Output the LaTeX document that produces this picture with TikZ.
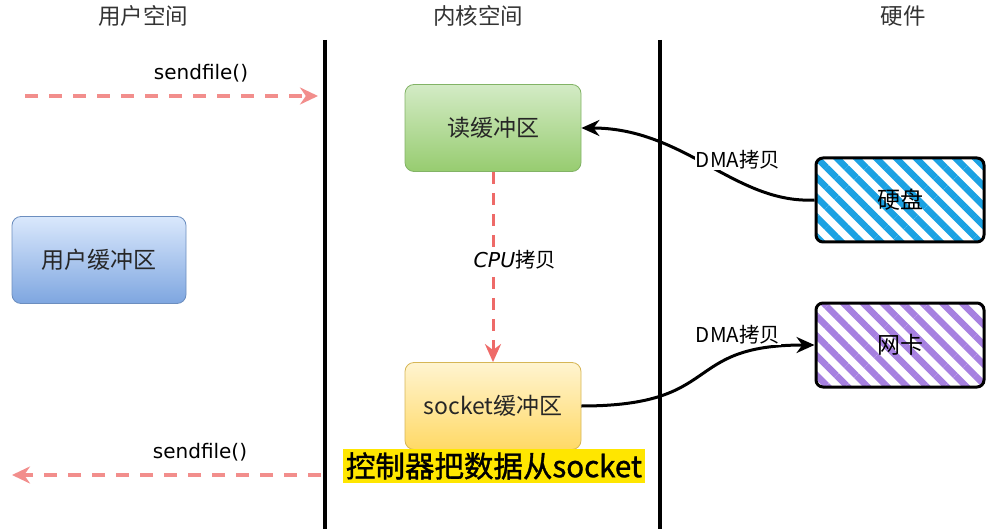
\documentclass[tikz,border=0pt]{standalone}
\usepackage{fontspec}
\setmainfont{Noto Sans CJK SC}
\newfontfamily\latinfont{DejaVu Sans}
\newfontfamily\heavyfont[FakeBold=1.2]{Noto Sans CJK SC}
\usetikzlibrary{arrows.meta,patterns.meta}

\definecolor{dashpink}{HTML}{F28E8C}
\definecolor{cpured}{HTML}{EE6A68}
\definecolor{greentop}{HTML}{D3EBC5}
\definecolor{greenbot}{HTML}{97CC70}
\definecolor{greenline}{HTML}{82B366}
\definecolor{bluetop}{HTML}{DAE8FC}
\definecolor{bluebot}{HTML}{7EA6E0}
\definecolor{blueline}{HTML}{6C8EBF}
\definecolor{yellowtop}{HTML}{FFF4D0}
\definecolor{yellowbot}{HTML}{FFD966}
\definecolor{yellowline}{HTML}{D6B656}
\definecolor{diskblue}{HTML}{1BA1E2}
\definecolor{nicpurple}{HTML}{A680E0}
\definecolor{subyellow}{HTML}{FFE600}

\tikzset{
  header/.style={font=\fontsize{22.5}{24}\selectfont, text=black!80},
  buf/.style={rounded corners=9pt, minimum width=176pt, minimum height=87pt,
    font=\fontsize{23}{26}\selectfont, text=black!85, line width=0.8pt},
  hw/.style={rounded corners=7pt, minimum width=168pt, minimum height=84pt,
    draw=black, line width=3pt, font=\fontsize{23}{26}\selectfont},
  hatch/.style={pattern={Lines[angle=-45,distance=14pt,line width=6.5pt]}, rounded corners=7pt},
  wall/.style={line width=4pt, black},
  callarrow/.style={dashpink, line width=3.5pt, dash pattern=on 13pt off 11pt,
    -{Stealth[length=18pt,width=17pt]}},
  dma/.style={line width=3pt, black, -{Stealth[length=18pt,width=16pt]}},
  edgelabel/.style={font=\fontsize{20.5}{22}\selectfont, fill=white, inner sep=1pt},
  calllabel/.style={font=\latinfont\fontsize{20}{22}\selectfont}
}

\begin{document}
\begin{tikzpicture}[x=1pt,y=-1pt]
  \useasboundingbox (0,0) rectangle (990,529);

  % headers
  \node[header] at (143,16) (huser) {用户空间};
  \node[header] at (478,16) (hkern) {内核空间};
  \node[header] at (903,16) (hhw) {硬件};

  % walls
  \coordinate (w1t) at (325,40);
  \coordinate (w1b) at (325,529);
  \coordinate (w2t) at (660,40);
  \coordinate (w2b) at (660,529);
  \draw [wall] (w1t) -- (w1b);
  \draw [wall] (w2t) -- (w2b);

  % buffers
  \node[buf, draw=greenline, top color=greentop, bottom color=greenbot] at (493,128) (readbuf) {读缓冲区};
  \node[buf, draw=blueline, top color=bluetop, bottom color=bluebot, minimum width=174pt] at (99,260) (userbuf) {用户缓冲区};
  \node[buf, draw=yellowline, top color=yellowtop, bottom color=yellowbot] at (493,406) (sockbuf) {socket缓冲区};

  % hardware
  \pattern[hatch, pattern color=diskblue] (816,158) rectangle (984,243);
  \node[hw] at (900,200) (disk) {硬盘};
  \pattern[hatch, pattern color=nicpurple] (816,303) rectangle (984,387);
  \node[hw] at (900,345) (nic) {网卡};

  % sendfile calls
  \coordinate (in0) at (25,96);
  \coordinate (in1) at (318,96);
  \coordinate (out0) at (321,475);
  \coordinate (out1) at (12,475);
  \draw [callarrow] (in0) -- (in1);
  \draw [callarrow] (out0) -- (out1);
  \node[calllabel] at (201,73) (call1) {sendfile()};
  \node[calllabel] at (200,452) (call2) {sendfile()};

  % copies
  \draw [cpured, line width=3pt, dash pattern=on 12pt off 9pt, -{Stealth[length=18pt,width=16pt]}]
    (readbuf.south) -- (sockbuf.north);
  \node[font=\fontsize{20.5}{22}\selectfont, fill=white, inner sep=2pt] at (515,260) (cpulabel) {{\latinfont\itshape CPU}拷贝};
  \draw [dma] (disk.west) .. controls (735,204) and (685,128) .. (readbuf.east);
  \node[edgelabel] at (738,160) (dma1) {DMA拷贝};
  \draw [dma] (sockbuf.east) .. controls (725,406) and (680,345) .. (nic.west);
  \node[edgelabel] at (738,335) (dma2) {DMA拷贝};

  % subtitle
  \node[fill=subyellow, inner sep=3pt, font=\heavyfont\fontsize{29.5}{31}\selectfont] at (494,466) (subtitle) {控制器把数据从socket};
\end{tikzpicture}
\end{document}
